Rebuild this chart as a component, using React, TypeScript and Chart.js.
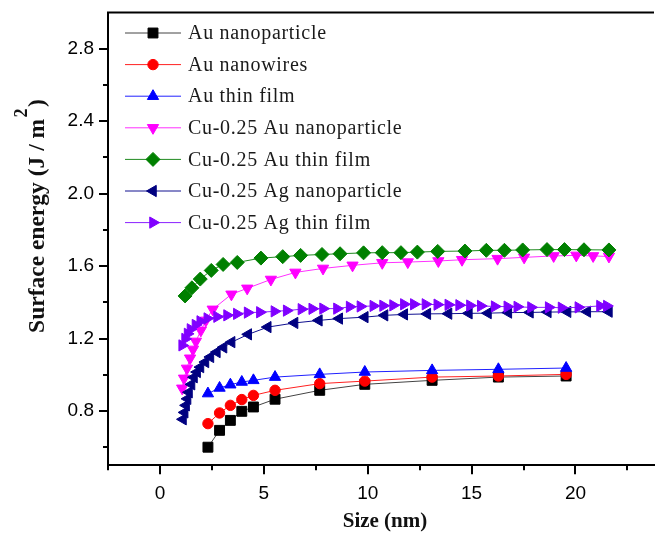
import React, { useEffect, useRef } from 'react';
import { Chart, registerables } from 'chart.js';

Chart.register(...registerables);

// ---- data ----
const auSizes = [2.31, 2.87, 3.39, 3.94, 4.5, 5.54, 7.69, 9.86, 13.1, 16.29, 19.55];
const auNanoparticle = [0.6, 0.693, 0.748, 0.798, 0.822, 0.865, 0.914, 0.947, 0.969, 0.987, 0.993];
const auNanowires = [0.73, 0.789, 0.831, 0.863, 0.886, 0.914, 0.951, 0.965, 0.987, 0.993, 1.002];
const auThinFilm = [0.896, 0.927, 0.945, 0.96, 0.969, 0.987, 1.002, 1.015, 1.024, 1.03, 1.037];

const cuAuNpSizes = [1.07, 1.16, 1.3, 1.45, 1.59, 1.73, 1.97, 2.21, 2.54, 3.44, 4.2, 5.34, 6.52, 7.85, 9.27, 10.7, 11.93, 13.4, 14.54, 16.25, 17.53, 18.95, 20.04, 20.85, 21.61];
const cuAuNp = [0.925, 0.98, 1.035, 1.091, 1.14, 1.184, 1.245, 1.3, 1.361, 1.444, 1.477, 1.526, 1.565, 1.587, 1.604, 1.618, 1.622, 1.628, 1.635, 1.641, 1.648, 1.656, 1.659, 1.656, 1.653];

const cuAuTfSizes = [1.21, 1.54, 1.94, 2.47, 3.04, 3.72, 4.86, 5.91, 6.77, 7.8, 8.67, 9.8, 10.7, 11.6, 12.39, 13.37, 14.68, 15.71, 16.58, 17.46, 18.63, 19.47, 20.41, 21.61];
const cuAuTf = [1.435, 1.48, 1.528, 1.576, 1.609, 1.62, 1.644, 1.652, 1.659, 1.664, 1.668, 1.673, 1.674, 1.674, 1.677, 1.681, 1.683, 1.687, 1.687, 1.689, 1.691, 1.691, 1.69, 1.689];

const cuAgNpSizes = [1.11, 1.19, 1.26, 1.33, 1.4, 1.52, 1.64, 1.79, 1.95, 2.19, 2.43, 2.74, 3.06, 3.45, 4.25, 5.19, 6.48, 7.65, 8.63, 9.86, 10.81, 11.76, 12.87, 13.89, 14.87, 15.79, 16.77, 17.81, 18.67, 19.62, 20.57, 21.61];
const cuAgNp = [0.754, 0.792, 0.831, 0.867, 0.903, 0.947, 0.986, 1.015, 1.042, 1.07, 1.098, 1.125, 1.151, 1.18, 1.223, 1.263, 1.286, 1.3, 1.31, 1.318, 1.328, 1.333, 1.336, 1.337, 1.339, 1.34, 1.343, 1.344, 1.346, 1.347, 1.348, 1.348];

const cuAgTfSizes = [1.07, 1.21, 1.33, 1.47, 1.71, 1.94, 2.28, 2.75, 3.23, 3.7, 4.22, 4.81, 5.51, 6.1, 6.81, 7.33, 7.85, 8.52, 9.13, 9.65, 10.27, 10.74, 11.22, 11.74, 12.22, 12.78, 13.35, 13.88, 14.4, 14.92, 15.44, 16.11, 16.72, 17.2, 17.86, 18.71, 19.33, 20.14, 21.18, 21.51];
const cuAgTf = [1.162, 1.198, 1.226, 1.251, 1.275, 1.295, 1.311, 1.32, 1.328, 1.336, 1.343, 1.345, 1.35, 1.354, 1.362, 1.364, 1.365, 1.365, 1.375, 1.377, 1.38, 1.381, 1.383, 1.389, 1.389, 1.389, 1.387, 1.386, 1.384, 1.382, 1.38, 1.377, 1.376, 1.375, 1.372, 1.372, 1.37, 1.372, 1.38, 1.38];

const seriesNames = [
  'Au nanoparticle',
  'Au nanowires',
  'Au thin film',
  'Cu-0.25 Au nanoparticle',
  'Cu-0.25 Au thin film',
  'Cu-0.25 Ag nanoparticle',
  'Cu-0.25 Ag thin film',
];

const xMajorTicks = [0, 5, 10, 15, 20];
const xMinorTicks = [-2.5, 2.5, 7.5, 12.5, 17.5, 22.5];
const yMajorTicks = [0.8, 1.2, 1.6, 2.0, 2.4, 2.8];
const yMinorTicks = [0.6, 1.0, 1.4, 1.8, 2.2, 2.6];

// ---- styles ----
const styles = [
  { color: '#000000', line: '#444444', shape: 'rect', rot: 0, r: 7 },
  { color: '#ff0000', line: '#ff2020', shape: 'circle', rot: 0, r: 5.2 },
  { color: '#0000ff', line: '#2020ff', shape: 'triangle', rot: 0, r: 6.5 },
  { color: '#ff00ff', line: '#ff30ff', shape: 'triangle', rot: 180, r: 6.5 },
  { color: '#008000', line: '#208a20', shape: 'rectRot', rot: 0, r: 7 },
  { color: '#000080', line: '#101090', shape: 'triangle', rot: 270, r: 6.5 },
  { color: '#8000ff', line: '#8a20ff', shape: 'triangle', rot: 90, r: 6.5 },
];

function toPoints(xs: number[], ys: number[]) {
  return xs.map((x, i) => ({ x, y: ys[i] }));
}

function drawMarker(ctx: CanvasRenderingContext2D, shape: string, rotDeg: number, x: number, y: number, r: number, color: string) {
  ctx.save();
  ctx.fillStyle = color;
  ctx.strokeStyle = color;
  ctx.lineWidth = 1;
  ctx.beginPath();
  let rad = (rotDeg * Math.PI) / 180;
  if (shape === 'circle') {
    ctx.arc(x, y, r, 0, Math.PI * 2);
  } else if (shape === 'rect') {
    const s = Math.SQRT1_2 * r;
    ctx.rect(x - s, y - s, 2 * s, 2 * s);
  } else if (shape === 'rectRot') {
    ctx.moveTo(x - r, y);
    ctx.lineTo(x, y - r);
    ctx.lineTo(x + r, y);
    ctx.lineTo(x, y + r);
    ctx.closePath();
  } else {
    ctx.moveTo(x + Math.sin(rad) * r, y - Math.cos(rad) * r);
    rad += (2 * Math.PI) / 3;
    ctx.lineTo(x + Math.sin(rad) * r, y - Math.cos(rad) * r);
    rad += (2 * Math.PI) / 3;
    ctx.lineTo(x + Math.sin(rad) * r, y - Math.cos(rad) * r);
    ctx.closePath();
  }
  ctx.fill();
  ctx.stroke();
  ctx.restore();
}

const decorPlugin = {
  id: 'decor',
  afterDraw(chart: any) {
    const ctx: CanvasRenderingContext2D = chart.ctx;
    const { left, right, top, bottom } = chart.chartArea;
    const xs = chart.scales.x;
    const ys = chart.scales.y;
    ctx.save();
    ctx.strokeStyle = '#000';
    ctx.lineWidth = 2;
    ctx.beginPath();
    ctx.moveTo(left - 1, top);
    ctx.lineTo(right, top);
    ctx.stroke();
    const tick = (x1: number, y1: number, x2: number, y2: number) => {
      ctx.beginPath();
      ctx.moveTo(x1, y1);
      ctx.lineTo(x2, y2);
      ctx.stroke();
    };
    xMajorTicks.forEach((v) => {
      const p = Math.round(xs.getPixelForValue(v));
      tick(p, bottom, p, bottom + 9);
    });
    xMinorTicks.forEach((v) => {
      const p = Math.round(xs.getPixelForValue(v));
      if (p <= right) tick(p, bottom, p, bottom + 5);
    });
    yMajorTicks.forEach((v) => {
      const p = Math.round(ys.getPixelForValue(v));
      tick(left, p, left - 9, p);
    });
    yMinorTicks.forEach((v) => {
      const p = Math.round(ys.getPixelForValue(v));
      tick(left, p, left - 5, p);
    });

    // legend
    ctx.font = "20px 'Liberation Serif', 'Times New Roman', serif";
    (ctx as any).letterSpacing = '0.7px';
    ctx.textBaseline = 'middle';
    ctx.textAlign = 'left';
    seriesNames.forEach((name, i) => {
      const st = styles[i];
      const y = 33 + 31.6 * i;
      ctx.strokeStyle = st.line;
      ctx.lineWidth = 1;
      ctx.beginPath();
      ctx.moveTo(125, y);
      ctx.lineTo(181, y);
      ctx.stroke();
      drawMarker(ctx, st.shape, st.rot, 153, y, st.r, st.color);
      ctx.fillStyle = '#1a1a1a';
      ctx.fillText(name, 188, y + 1);
    });
    (ctx as any).letterSpacing = '0px';

    // x title
    ctx.fillStyle = '#111';
    ctx.font = "bold 21px 'Liberation Serif', 'Times New Roman', serif";
    ctx.textAlign = 'center';
    ctx.textBaseline = 'alphabetic';
    ctx.fillText('Size (nm)', 385, 527);

    // y title
    ctx.save();
    ctx.translate(44, 216);
    ctx.rotate(-Math.PI / 2);
    const mainFont = "bold 23.5px 'Liberation Serif', 'Times New Roman', serif";
    const supFont = "bold 18px 'Liberation Serif', 'Times New Roman', serif";
    const main = 'Surface energy (J / m';
    ctx.font = mainFont;
    const w1 = ctx.measureText(main).width;
    const w3 = ctx.measureText(')').width;
    ctx.font = supFont;
    const w2 = ctx.measureText('2').width;
    const total = w1 + w2 + w3 + 3;
    const x0 = -total / 2;
    ctx.textAlign = 'left';
    ctx.font = mainFont;
    ctx.fillText(main, x0, 0);
    ctx.font = supFont;
    ctx.fillText('2', x0 + w1 + 1.5, -17);
    ctx.font = mainFont;
    ctx.fillText(')', x0 + w1 + w2 + 3, 0);
    ctx.restore();

    ctx.restore();
  },
};

export default function App() {
  const ref = useRef<HTMLCanvasElement | null>(null);
  useEffect(() => {
    if (!ref.current) return;
    const dataSets = [
      toPoints(auSizes, auNanoparticle),
      toPoints(auSizes, auNanowires),
      toPoints(auSizes, auThinFilm),
      toPoints(cuAuNpSizes, cuAuNp),
      toPoints(cuAuTfSizes, cuAuTf),
      toPoints(cuAgNpSizes, cuAgNp),
      toPoints(cuAgTfSizes, cuAgTf),
    ];
    const tickFont = { family: "'Liberation Sans', Arial, sans-serif", size: 19 };
    const chart = new Chart(ref.current, {
      type: 'line',
      data: {
        datasets: dataSets.map((d, i) => ({
          label: seriesNames[i],
          data: d,
          borderColor: styles[i].line,
          backgroundColor: styles[i].color,
          borderWidth: 1,
          pointStyle: styles[i].shape as any,
          pointRotation: styles[i].rot,
          pointRadius: styles[i].r,
          pointBackgroundColor: styles[i].color,
          pointBorderColor: styles[i].color,
          pointBorderWidth: 1,
          tension: 0,
          fill: false,
          order: 6 - i,
        })),
      },
      options: {
        animation: false,
        responsive: false,
        devicePixelRatio: 1,
        layout: { padding: { top: 12.5, right: 0, left: 0, bottom: 0 } },
        plugins: { legend: { display: false }, tooltip: { enabled: false }, title: { display: false } },
        scales: {
          x: {
            type: 'linear',
            min: -2.5,
            max: 23.78,
            grid: { display: false, drawTicks: true, tickLength: 9 },
            border: { display: true, color: '#000', width: 2 },
            ticks: {
              stepSize: 5,
              includeBounds: false,
              padding: 8,
              color: '#000',
              font: tickFont,
              maxRotation: 0,
              autoSkip: false,
              callback: (v: any) => String(Math.round(Number(v))),
            },
            afterFit: (s: any) => {
              s.height = 534 - 465.3;
              s.paddingLeft = 0;
              s.paddingRight = 0;
            },
          },
          y: {
            type: 'linear',
            min: 0.5,
            max: 3.0,
            grid: { display: false, drawTicks: true, tickLength: 9 },
            border: { display: true, color: '#000', width: 2 },
            ticks: {
              stepSize: 0.4,
              includeBounds: false,
              padding: 5,
              color: '#000',
              font: tickFont,
              autoSkip: false,
              callback: (v: any) => Number(v).toFixed(1),
            },
            afterFit: (s: any) => {
              s.width = 108;
              s.paddingTop = 0;
              s.paddingBottom = 0;
            },
          },
        },
      },
      plugins: [decorPlugin],
    });
    return () => chart.destroy();
  }, []);
  return (
    <div style={{ position: 'absolute', left: 0, top: 0, width: 662, height: 534, background: '#fff' }}>
      <canvas ref={ref} width={662} height={534} style={{ display: 'block' }} />
    </div>
  );
}
